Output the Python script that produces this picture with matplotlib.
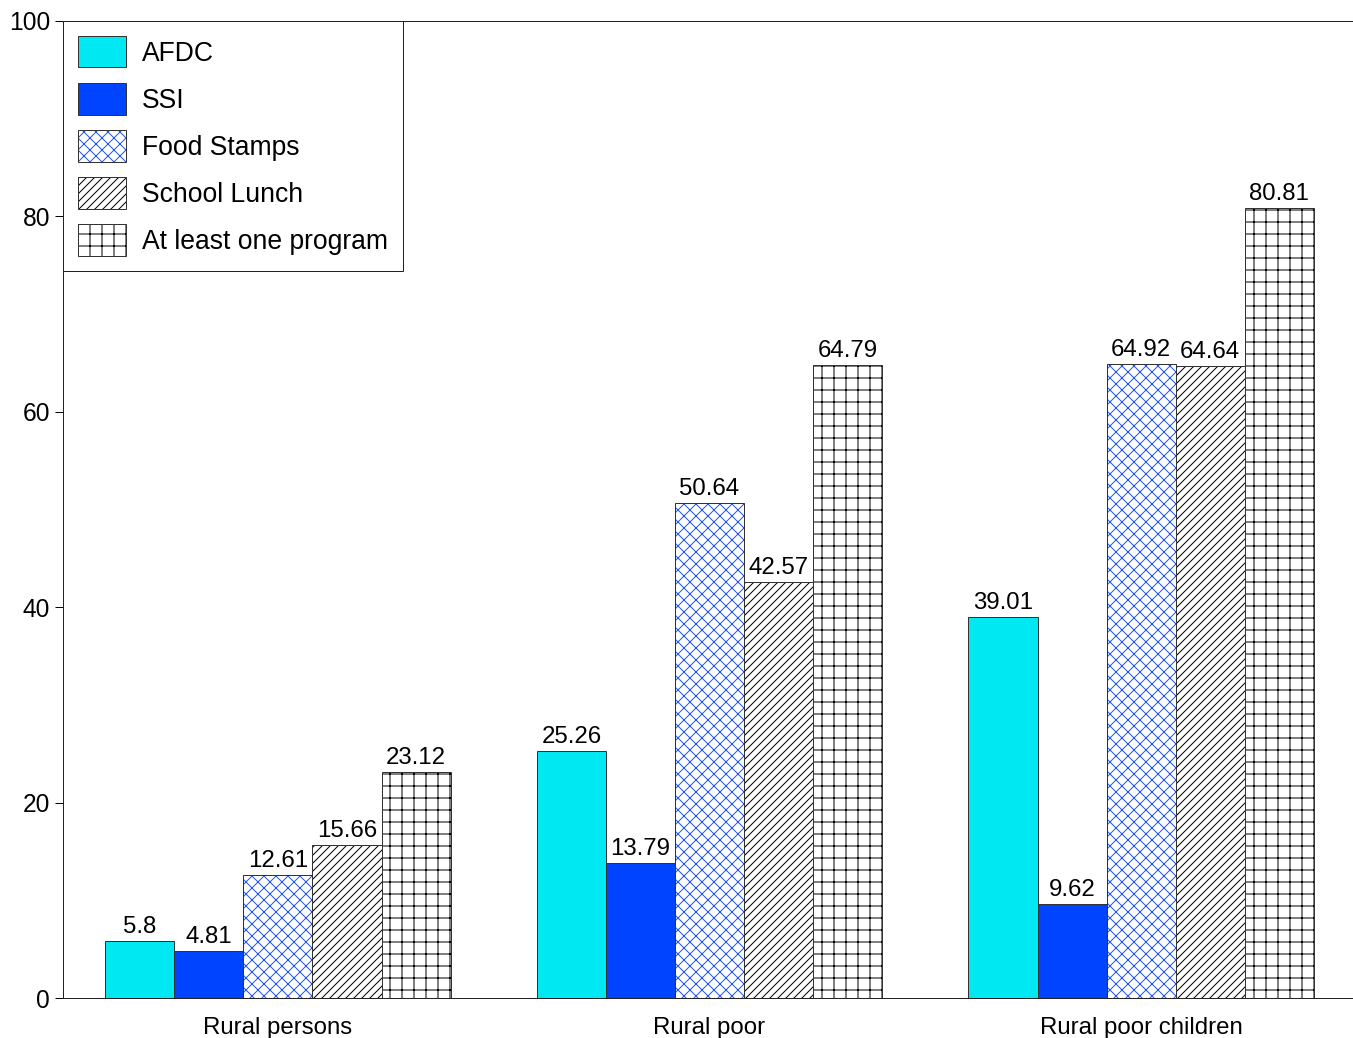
import numpy as np
import matplotlib
matplotlib.use("Agg")
import matplotlib.pyplot as plt
from matplotlib.patches import Patch
from matplotlib.legend_handler import HandlerTuple

# ── data ──────────────────────────────────────────────────────────────────────
groups = ["Rural persons", "Rural poor", "Rural poor children"]
programs = ["AFDC", "SSI", "Food Stamps", "School Lunch", "At least one program"]

afdc         = [5.8, 25.26, 39.01]
ssi          = [4.81, 13.79, 9.62]
food_stamps  = [12.61, 50.64, 64.92]
school_lunch = [15.66, 42.57, 64.64]
at_least_one = [23.12, 64.79, 80.81]

series = [afdc, ssi, food_stamps, school_lunch, at_least_one]

# fill colour, hatch, hatch colour per program
STYLES = [
    ("#00e8f2", "",    None),
    ("#0044ff", "",    None),
    ("white",   "xx",  "#1f55ff"),
    ("white",   "///", "black"),
    ("white",   "+",   "black"),
]
EDGE = "#333333"

# ── figure ────────────────────────────────────────────────────────────────────
DPI = 72
plt.rcParams["font.family"] = ["Liberation Sans", "DejaVu Sans"]
plt.rcParams["hatch.linewidth"] = 1.0

fig = plt.figure(figsize=(1353 / DPI, 1038 / DPI), dpi=DPI)
ax = fig.add_axes([63 / 1353, 40 / 1038, 1290 / 1353, 977 / 1038])

x = np.arange(len(groups))
width = 0.16
handles = []

for i, (vals, name, (fc, hatch, hc)) in enumerate(zip(series, programs, STYLES)):
    pos = x + (i - 2) * width
    if hatch:
        ax.bar(pos, vals, width, color=fc, edgecolor=hc, hatch=hatch,
               linewidth=0, zorder=2)
        ax.bar(pos, vals, width, fill=False, edgecolor=EDGE,
               linewidth=1.0, zorder=3)
        h = (Patch(facecolor=fc, edgecolor=hc, hatch=hatch, linewidth=0),
             Patch(fill=False, edgecolor=EDGE, linewidth=1.0))
    else:
        ax.bar(pos, vals, width, color=fc, edgecolor=EDGE,
               linewidth=1.0, zorder=3)
        h = Patch(facecolor=fc, edgecolor=EDGE, linewidth=1.0)
    handles.append(h)

    for xp, v in zip(pos, vals):
        ax.annotate(f"{v:g}", (xp, v), xytext=(0, 3), textcoords="offset points",
                    ha="center", va="bottom", fontsize=24, color="black")

ax.set_xlim(-0.498, 2.491)
ax.set_ylim(0, 100)
ax.set_yticks(np.arange(0, 101, 20))
ax.set_xticks(x)
ax.set_xticklabels(groups)
ax.tick_params(axis="x", length=0, pad=19, labelsize=24)
ax.tick_params(axis="y", length=8, width=1, pad=5, labelsize=24.5, direction="out")

for side in ("left", "bottom", "top"):
    ax.spines[side].set_color("#222222")
    ax.spines[side].set_linewidth(1.0)
ax.spines["right"].set_visible(False)

leg = ax.legend(
    handles, programs,
    loc="upper left", bbox_to_anchor=(0, 1), borderaxespad=0,
    fontsize=26.5, frameon=True, fancybox=False, framealpha=1,
    edgecolor="#222222", handlelength=1.78, handleheight=1.43,
    handletextpad=0.62, labelspacing=0.6, borderpad=0.58,
    handler_map={tuple: HandlerTuple(ndivide=1)},
)
leg.get_frame().set_linewidth(1.0)

fig.savefig("out.png", dpi=DPI)
